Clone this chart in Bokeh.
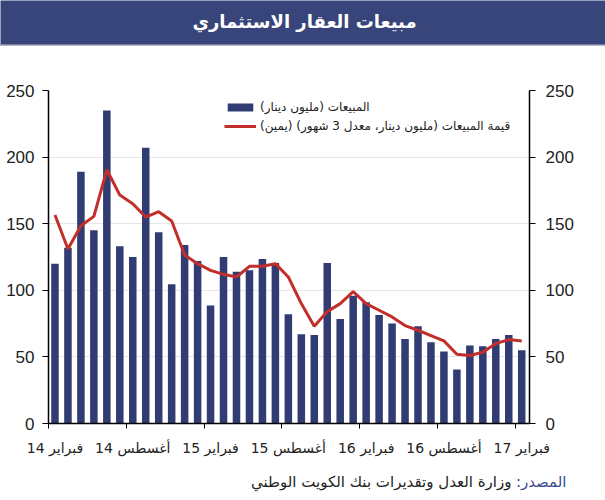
import pandas as pd
from bokeh.plotting import figure
from bokeh.layouts import column
from bokeh.models import (Range1d, LinearAxis, FixedTicker, Legend, LegendItem,
                          ColumnDataSource)
from bokeh.core.properties import value
from bokeh.embed import file_html
from bokeh.resources import INLINE

# ---------------- data ----------------
months = [d.strftime("%Y-%m") for d in pd.date_range("2014-02-01", "2017-02-01", freq="MS")]
sales = [120, 132, 189, 145, 235, 133, 125, 207, 143.5, 104.5, 134, 122, 88.5,
         125, 114, 115, 123.5, 120.5, 82, 67, 66.5, 120.5, 78.5, 96, 91,
         81.5, 75, 63.5, 73, 61, 54, 40.5, 58.5, 58, 63.5, 66.5, 55]
avg3m = [156.5, 131, 148.5, 155.5, 190.5, 171.5, 165, 155, 159, 152, 126.5, 120, 115,
         112, 110, 118, 118, 120, 110, 90, 73, 84, 90, 99, 90,
         85, 80, 73.5, 70, 66, 62, 52, 51, 53.5, 60, 63, 62]
tick_labels = ["فبراير 14", "أغسطس 14", "فبراير 15", "أغسطس 15",
               "فبراير 16", "أغسطس 16", "فبراير 17"]
y_ticks = [0, 50, 100, 150, 200, 250]

title_text = "مبيعات العقار الاستثماري"
legend_bar = "المبيعات (مليون دينار)\u200f"
legend_line = "قيمة المبيعات (مليون دينار، معدل 3 شهور) (يمين)\u200f"
source_label = "المصدر:\u200f"
source_text = "وزارة العدل وتقديرات بنك الكويت الوطني"

NAVY = "#303c72"
BANNER = "#37457a"
RED = "#c22f2b"
AR_FONT = "DejaVu Sans"
NUM_FONT = "Liberation Sans"

src = ColumnDataSource(dict(x=list(range(len(months))), month=months, sales=sales, avg=avg3m))


def blank(h, bg):
    f = figure(width=605, height=h, x_range=Range1d(0, 605), y_range=Range1d(0, h),
               min_border=0, toolbar_location=None, output_backend="svg",
               background_fill_color=bg, border_fill_color=bg,
               outline_line_color=None, frame_align=False)
    f.axis.visible = False
    f.grid.visible = False
    return f


# ---------------- header ----------------
hdr = blank(46, BANNER)
hdr.quad(left=[0], right=[605], bottom=[0], top=[1.5], color="#b8bac4")
hdr.text(x=[304], y=[25], text=[title_text], text_align="center", text_baseline="middle",
         text_color="white", text_font_size="18px", text_font_style="bold",
         text_font=value(AR_FONT))

# ---------------- main chart ----------------
p = figure(width=605, height=412, x_range=Range1d(-0.5, 36.6), y_range=Range1d(0, 250),
           output_backend="svg", toolbar_location=None, frame_align=False,
           min_border_left=48, min_border_right=76, min_border_top=44, min_border_bottom=35,
           outline_line_color=None)
p.extra_y_ranges = {"r": Range1d(0, 250)}

bars = p.vbar(x="x", top="sales", width=0.58, source=src, fill_color=NAVY, line_color=None)
line = p.line(x="x", y="avg", source=src, y_range_name="r", line_color=RED, line_width=3)

xt = FixedTicker(ticks=[i * 6 for i in range(len(tick_labels))],
                 minor_ticks=[i * 6 - 0.5 for i in range(len(tick_labels))])
p.xaxis.ticker = xt
p.xaxis.major_label_overrides = {i * 6: lab for i, lab in enumerate(tick_labels)}
p.xaxis.major_tick_line_color = None
p.xaxis.minor_tick_line_color = "black"
p.xaxis.minor_tick_out = 5
p.xaxis.minor_tick_in = 0
p.xaxis.axis_line_color = "black"
p.xaxis.axis_line_width = 1.5
p.xaxis.major_label_standoff = 10
p.xaxis.major_label_text_font = AR_FONT
p.xaxis.major_label_text_font_size = "14px"
p.xaxis.major_label_text_color = "#222222"

yt = FixedTicker(ticks=y_ticks)
p.yaxis.ticker = yt
right = LinearAxis(y_range_name="r", ticker=FixedTicker(ticks=y_ticks))
p.add_layout(right, "right")
for ax in (p.yaxis[0], right):
    ax.axis_line_color = "black"
    ax.axis_line_width = 1.5
    ax.major_tick_line_color = "black"
    ax.major_tick_out = 6
    ax.major_tick_in = 0
    ax.minor_tick_line_color = None
    ax.major_label_text_font = NUM_FONT
    ax.major_label_text_font_size = "17px"
    ax.major_label_text_color = "#222222"
p.yaxis[0].major_label_standoff = 8
right.major_label_standoff = 10

p.xgrid.visible = False
p.ygrid.ticker = yt
p.ygrid.grid_line_color = "#e6e6e6"
p.ygrid.grid_line_width = 1

legend = Legend(items=[LegendItem(label=legend_bar, renderers=[bars]),
                       LegendItem(label=legend_line, renderers=[line])],
                location=(176, 289), padding=0, margin=0, spacing=3,
                glyph_width=32, glyph_height=10, label_height=16, label_standoff=4,
                label_text_font=AR_FONT, label_text_font_size="12px",
                label_text_color="#222222",
                background_fill_alpha=0, border_line_color=None)
p.add_layout(legend)

# ---------------- footer ----------------
ftr = blank(42, "white")
ftr.text(x=[566], y=[19], text=[source_label], text_align="right", text_baseline="middle",
         text_font=value(AR_FONT), text_font_size="15px", text_color="#3a4a8c")
ftr.text(x=[511], y=[19], text=[source_text], text_align="right", text_baseline="middle",
         text_font=value(AR_FONT), text_font_size="15px", text_color="#222222")

layout = column(hdr, p, ftr, spacing=0)
open("out.html", "w").write(file_html(layout, INLINE))
